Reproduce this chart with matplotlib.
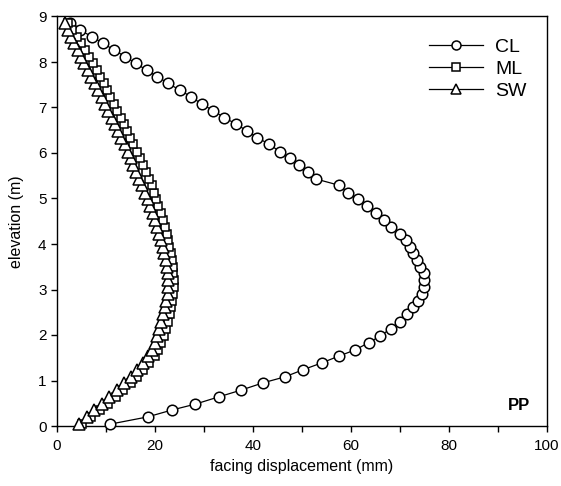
import matplotlib
matplotlib.use("Agg")
import matplotlib.pyplot as plt

plt.rcParams['font.family'] = ['Liberation Sans', 'DejaVu Sans']

elevation = [0.04, 0.20, 0.35, 0.48, 0.64, 0.79, 0.95, 1.08, 1.24, 1.39,
             1.54, 1.67, 1.83, 1.98, 2.14, 2.29, 2.46, 2.61, 2.75, 2.90,
             3.06, 3.21, 3.36, 3.50, 3.65, 3.80, 3.94, 4.09, 4.22, 4.37,
             4.53, 4.69, 4.84, 4.98, 5.13, 5.29, 5.43, 5.59, 5.74, 5.88,
             6.03, 6.19, 6.34, 6.49, 6.64, 6.78, 6.93, 7.08, 7.24, 7.38,
             7.53, 7.68, 7.82, 7.97, 8.12, 8.26, 8.41, 8.56, 8.70, 8.86]

cl = [10.8, 18.5, 23.4, 28.2, 33.0, 37.6, 42.1, 46.5, 50.3, 54.1,
      57.6, 60.8, 63.6, 66.0, 68.1, 69.9, 71.5, 72.7, 73.7, 74.5,
      74.8, 74.8, 74.9, 74.0, 73.4, 72.7, 72.0, 71.2, 69.9, 68.2,
      66.7, 65.1, 63.3, 61.4, 59.3, 57.6, 52.8, 51.2, 49.4, 47.6,
      45.5, 43.3, 40.9, 38.7, 36.5, 34.1, 31.9, 29.5, 27.3, 25.1,
      22.7, 20.5, 18.3, 16.1, 13.9, 11.7, 9.4, 7.1, 4.7, 2.7]

ml = [5.0, 7.0, 8.8, 10.4, 12.0, 13.5, 15.0, 16.3, 17.6, 18.8,
      19.9, 20.6, 21.3, 21.8, 22.3, 22.7, 23.0, 23.3, 23.5, 23.7,
      23.8, 23.8, 23.7, 23.6, 23.4, 23.2, 22.9, 22.7, 22.4, 22.0,
      21.6, 21.2, 20.7, 20.3, 19.8, 19.3, 18.7, 18.1, 17.5, 16.9,
      16.3, 15.6, 14.9, 14.3, 13.6, 13.0, 12.3, 11.6, 10.9, 10.2,
      9.5, 8.8, 8.1, 7.3, 6.5, 5.7, 4.9, 4.0, 3.1, 2.2]

sw = [4.4, 6.1, 7.6, 9.1, 10.7, 12.2, 13.7, 15.0, 16.3, 17.5,
      18.6, 19.3, 19.9, 20.4, 20.9, 21.3, 21.7, 22.0, 22.3, 22.6,
      22.7, 22.7, 22.6, 22.5, 22.2, 21.9, 21.6, 21.3, 20.9, 20.5,
      20.0, 19.5, 19.0, 18.5, 18.0, 17.4, 16.8, 16.2, 15.6, 15.0,
      14.4, 13.8, 13.1, 12.5, 11.8, 11.2, 10.5, 9.8, 9.1, 8.4,
      7.7, 7.0, 6.3, 5.6, 4.9, 4.2, 3.5, 2.8, 2.2, 1.6]

series_names = ["CL", "ML", "SW"]
x_ticks = [0, 20, 40, 60, 80, 100]
y_ticks = list(range(0, 10))

fig = plt.figure(figsize=(5.61, 4.86), dpi=100)
ax = fig.add_axes([57/561, 1 - 426/486, 490/561, (426 - 16.5)/486])

common = dict(color="black", linewidth=0.9, markerfacecolor="white",
              markeredgecolor="black", markeredgewidth=1.1, clip_on=False, zorder=3)
ax.plot(cl, elevation, marker="o", markersize=7.6, label=series_names[0], **common)
ax.plot(ml, elevation, marker="s", markersize=6.4, label=series_names[1], **common)
ax.plot(sw, elevation, marker="^", markersize=8.0, label=series_names[2], **common)

ax.set_xlim(0, 100)
ax.set_ylim(0, 9)
ax.set_xticks(x_ticks)
ax.set_xticks([10, 30, 50, 70, 90], minor=True)
ax.set_yticks(y_ticks)
ax.tick_params(axis="both", which="both", direction="out", length=4, width=1,
               labelsize=11, colors="black")
ax.tick_params(axis="x", pad=5)
for s in ax.spines.values():
    s.set_linewidth(1.0)

ax.set_xlabel("facing displacement (mm)", fontsize=11.5, labelpad=5)
ax.set_ylabel("elevation (m)", fontsize=11.5, labelpad=10)

ax.text(96.5, 0.44, "PP", fontsize=12, fontweight="bold", ha="right", va="center")

leg = ax.legend(loc="upper right", bbox_to_anchor=(0.958, 0.946), frameon=False,
                fontsize=14, handlelength=2.8, handletextpad=0.6, labelspacing=0.22,
                borderpad=0, borderaxespad=0, markerscale=0.85)

fig.savefig("out.png", dpi=100)
